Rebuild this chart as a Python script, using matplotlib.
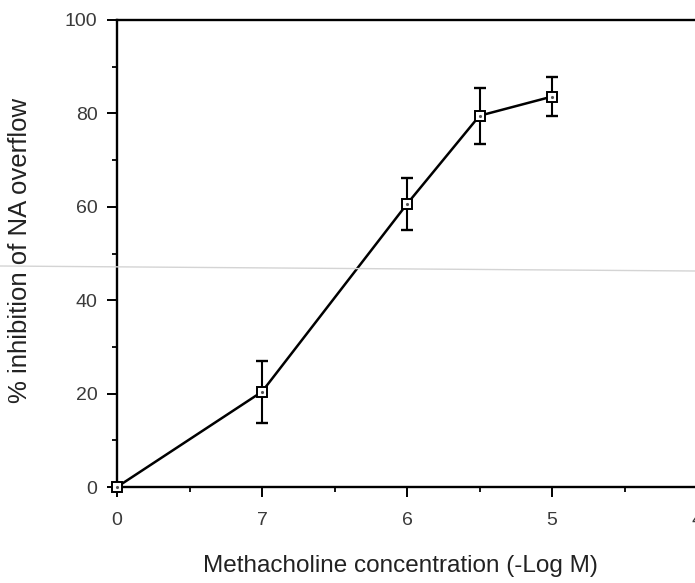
import matplotlib
matplotlib.use("Agg")
import matplotlib.pyplot as plt
from matplotlib.lines import Line2D
from matplotlib.ticker import FixedLocator

# Dose-response: methacholine concentration (-log M), 0 = no agonist
conc_neg_log = [0, 7, 6, 5.5, 5]
inhibition = [0, 20.4, 60.6, 79.5, 83.6]   # % inhibition of NA overflow
sem = [0, 6.6, 5.5, 6.0, 4.2]

tick_labels = ["0", "7", "6", "5", "4"]
y_ticks = [0, 20, 40, 60, 80, 100]

plt.rcParams["font.family"] = ["Liberation Sans", "DejaVu Sans"]


def to_pos(c):
    # categorical-ish axis: 0 at origin, then 7 -> 1, 6 -> 2, ... 4 -> 4
    return 0 if c == 0 else 8 - c


W, H = 695, 583
fig = plt.figure(figsize=(W / 100, H / 100), dpi=100)
ax = fig.add_axes([117 / W, 96 / H, 580 / W, 467 / H])

xs = [to_pos(c) for c in conc_neg_log]
ax.plot(xs, inhibition, color="black", lw=1.8, clip_on=False, zorder=3)
err_x = xs[1:]
ax.errorbar(err_x, inhibition[1:], yerr=sem[1:], fmt="none", ecolor="black",
            elinewidth=1.5, capsize=4.5, capthick=1.7, zorder=2)
ax.plot(xs, inhibition, ls="none", marker="s", ms=7, mfc="white", mec="black",
        mew=1.4, clip_on=False, zorder=4)
ax.plot(xs, inhibition, ls="none", marker=".", ms=2.5, color="#555555",
        clip_on=False, zorder=5)

ax.set_xlim(0, 4)
ax.set_ylim(0, 100)

ax.set_xticks(range(len(tick_labels)))
ax.set_xticklabels(tick_labels)
ax.xaxis.set_minor_locator(FixedLocator([0.5, 1.5, 2.5, 3.5]))
ax.set_yticks(y_ticks)
ax.yaxis.set_minor_locator(FixedLocator([10, 30, 50, 70, 90]))

ax.tick_params(which="major", direction="out", length=7, width=1.4,
               labelsize=14, labelcolor="#3a3a3a")
ax.tick_params(axis="x", which="major", pad=11)
ax.tick_params(axis="y", which="major", pad=7)
ax.tick_params(which="minor", direction="out", length=3.5, width=1.3)

for side in ["left", "top", "bottom"]:
    ax.spines[side].set_linewidth(1.7)
ax.spines["right"].set_visible(False)

fig.text(20 / W, 1 - 250 / H, "% inhibition of NA overflow", rotation=90,
         ha="center", va="center", fontsize=18.5, color="#222222")
fig.text(400 / W, 1 - 566 / H, "Methacholine concentration (-Log M)",
         ha="center", va="center", fontsize=17.5, color="#222222")

# faint scanner streak across the page
fig.add_artist(Line2D([0, 1], [1 - 266 / H, 1 - 271 / H],
                      transform=fig.transFigure, color="#d4d4d4", lw=1.0))

fig.savefig("out.png", dpi=100, facecolor="white")
